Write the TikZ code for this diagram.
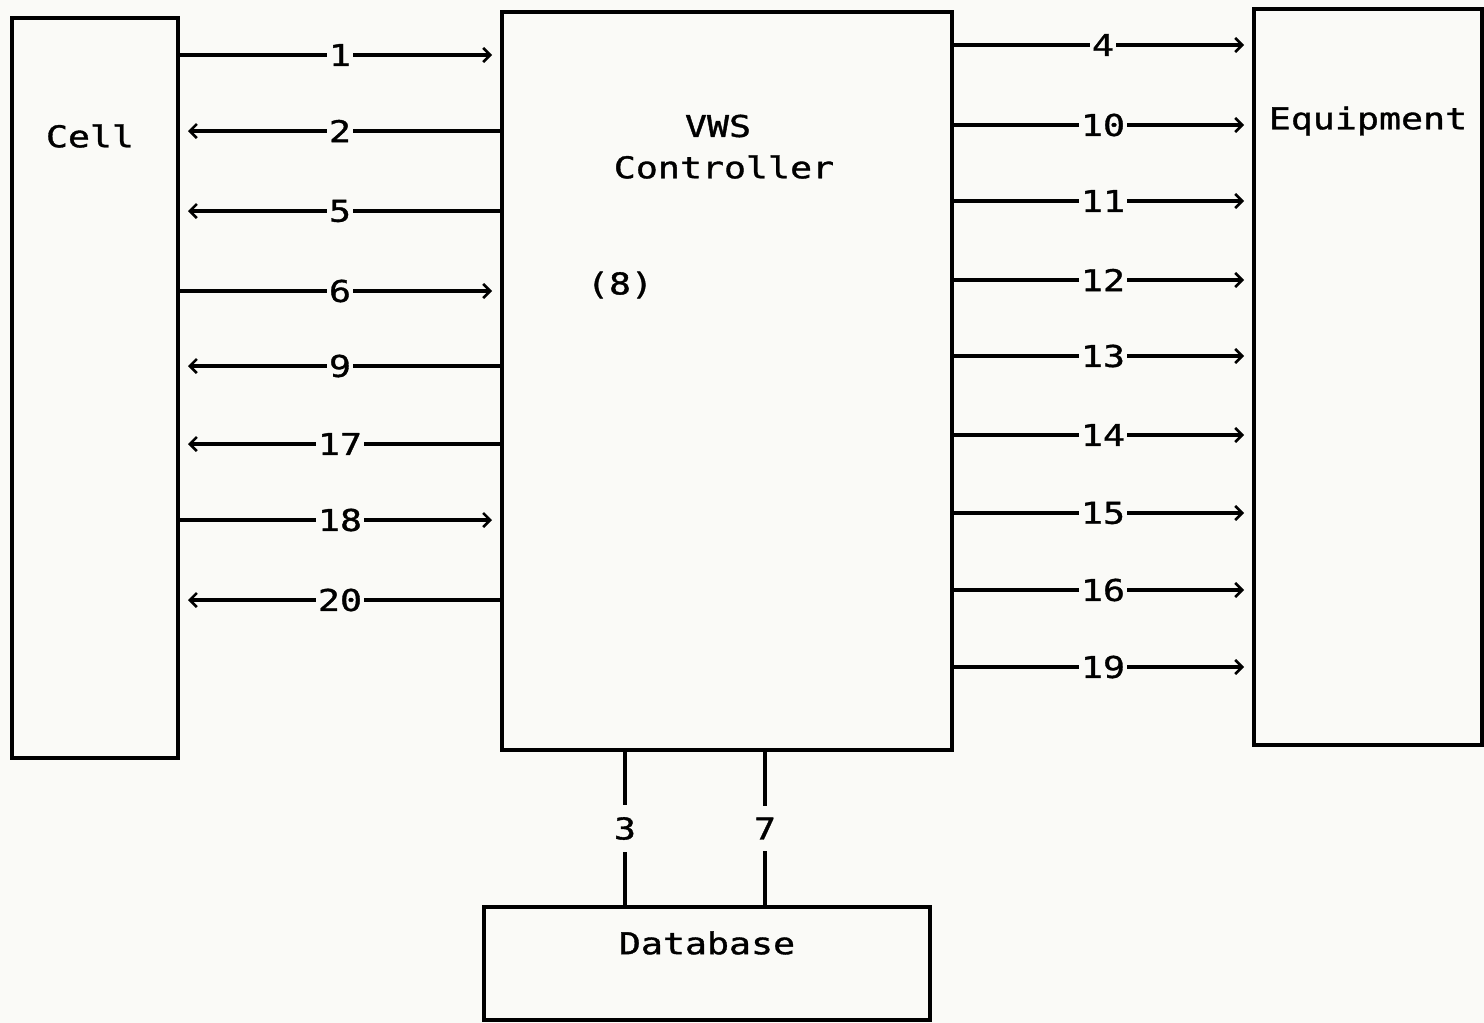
\documentclass[tikz,border=0pt]{standalone}
\usepackage{fontspec}
\newfontfamily\plotter[FakeStretch=1.22,FakeBold=1.2]{DejaVu Sans Mono}
\usetikzlibrary{arrows.meta}
\definecolor{paper}{rgb}{0.98,0.98,0.97}
\begin{document}
\begin{tikzpicture}[x=0.5pt,y=-0.5pt,
  box/.style={draw, line width=1.7pt, inner sep=0pt, outer sep=0pt},
  txt/.style={font=\plotter\fontsize{15pt}{18pt}\selectfont, inner sep=0pt},
  lbl/.style={txt, fill=paper, inner xsep=1pt, inner ysep=1pt},
  sig/.style={line width=1.7pt},
  tip/.style={sig, -{Straight Barb[length=3.5pt,width=7pt,line width=1.3pt]}, shorten >=5pt}]
\fill[paper] (0,0) rectangle (1484,1023);
\useasboundingbox (0,0) rectangle (1484,1023);
% boxes
\node[box, minimum width=83pt, minimum height=370pt] (cell) at (95,388) {};
\node[box, minimum width=225pt, minimum height=369pt] (ctrl) at (727,381) {};
\node[box, minimum width=114pt, minimum height=368pt] (equip) at (1368,377) {};
\node[box, minimum width=223pt, minimum height=56.5pt] (db) at (707,963.5) {};
% texts
\node[txt] (tcell) at (90,136) {Cell};
\node[txt] (tvws) at (718,126) {VWS};
\node[txt] (tctrl) at (724,167) {Controller};
\node[txt] (t8) at (620,285) {(8)};
\node[txt] (tequip) at (1368,121) {Equipment};
\node[txt] (tdb) at (707,943) {Database};
% cell <-> controller
\draw[tip] (cell.east |- 0,55) -- node[lbl]{1} (ctrl.west |- 0,55);
\draw[tip] (ctrl.west |- 0,131) -- node[lbl]{2} (cell.east |- 0,131);
\draw[tip] (ctrl.west |- 0,211) -- node[lbl]{5} (cell.east |- 0,211);
\draw[tip] (cell.east |- 0,291) -- node[lbl]{6} (ctrl.west |- 0,291);
\draw[tip] (ctrl.west |- 0,366) -- node[lbl]{9} (cell.east |- 0,366);
\draw[tip] (ctrl.west |- 0,444) -- node[lbl]{17} (cell.east |- 0,444);
\draw[tip] (cell.east |- 0,520) -- node[lbl]{18} (ctrl.west |- 0,520);
\draw[tip] (ctrl.west |- 0,600) -- node[lbl]{20} (cell.east |- 0,600);
% controller -> equipment
\draw[tip] (ctrl.east |- 0,45) -- node[lbl]{4} (equip.west |- 0,45);
\draw[tip] (ctrl.east |- 0,125) -- node[lbl]{10} (equip.west |- 0,125);
\draw[tip] (ctrl.east |- 0,201) -- node[lbl]{11} (equip.west |- 0,201);
\draw[tip] (ctrl.east |- 0,280) -- node[lbl]{12} (equip.west |- 0,280);
\draw[tip] (ctrl.east |- 0,356) -- node[lbl]{13} (equip.west |- 0,356);
\draw[tip] (ctrl.east |- 0,435) -- node[lbl]{14} (equip.west |- 0,435);
\draw[tip] (ctrl.east |- 0,513) -- node[lbl]{15} (equip.west |- 0,513);
\draw[tip] (ctrl.east |- 0,590) -- node[lbl]{16} (equip.west |- 0,590);
\draw[tip] (ctrl.east |- 0,667) -- node[lbl]{19} (equip.west |- 0,667);
% controller -- database
\draw[sig] (ctrl.south -| 625,0) -- node[lbl, inner ysep=6pt]{3} (db.north -| 625,0);
\draw[sig] (ctrl.south -| 765,0) -- node[lbl, inner ysep=6pt]{7} (db.north -| 765,0);
\end{tikzpicture}
\end{document}
